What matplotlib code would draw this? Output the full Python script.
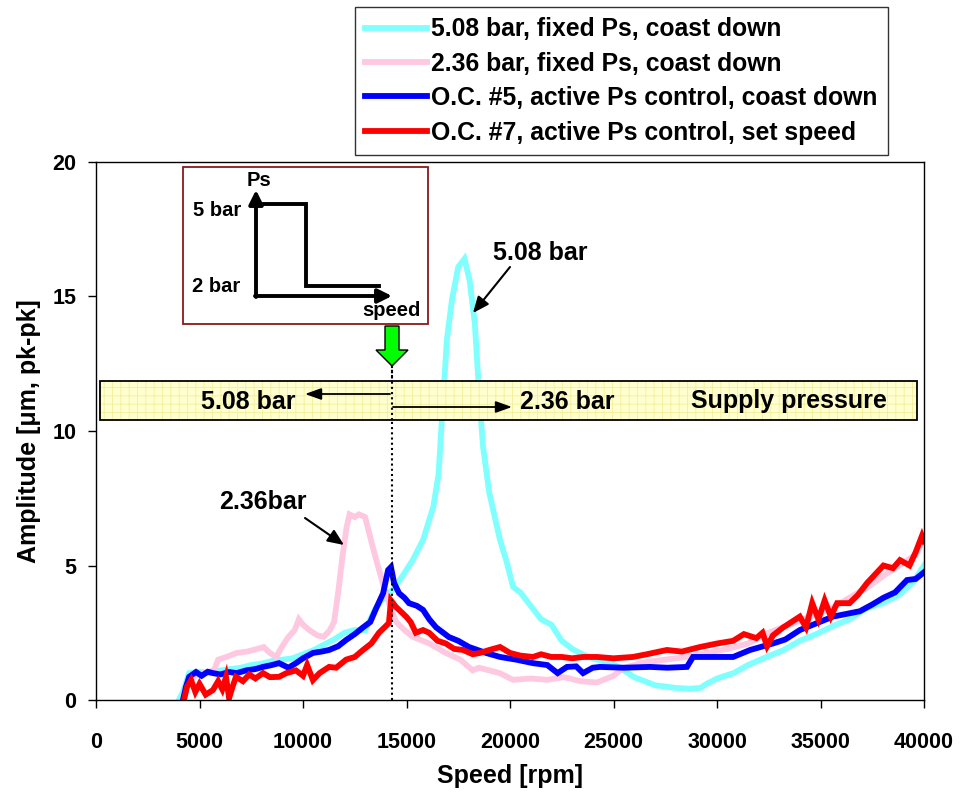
import matplotlib
matplotlib.use("Agg")
import matplotlib.pyplot as plt
from matplotlib.patches import Rectangle, Polygon, FancyArrowPatch
from matplotlib.lines import Line2D

plt.rcParams['font.family'] = ['Liberation Sans', 'DejaVu Sans']
plt.rcParams['font.weight'] = 'bold'

# ---- data -------------------------------------------------------------
cyan_x = [4000, 4200, 4500, 5000, 5500, 6000, 6500, 7000, 7500, 8000, 8500, 9000, 9500, 10000,
          10500, 11000, 11500, 12000, 12500, 13000, 13500, 14000, 14350, 14800, 15300, 15800,
          16300, 16550, 16700, 16950, 17200, 17500, 17800, 18050, 18300, 18550, 18700, 19000,
          19500, 19850, 20150, 20500, 21000, 21500, 22000, 22500, 23000, 23500, 24000, 25000,
          25500, 26000, 26500, 27000, 27500, 28000, 28700, 29200, 29500, 30000, 30800, 31500,
          32400, 33200, 34000, 34800, 35600, 36400, 37200, 38000, 38800, 39500, 40000]
cyan_y = [0.0, 0.3, 1.0, 1.05, 1.0, 1.1, 1.15, 1.2, 1.3, 1.35, 1.45, 1.5, 1.55, 1.7,
          1.85, 2.05, 2.25, 2.5, 2.6, 2.6, 3.4, 3.9, 4.1, 4.6, 5.2, 5.95,
          7.2, 8.4, 10.3, 13.4, 14.9, 16.1, 16.4, 15.6, 14.0, 10.9, 9.4, 7.7,
          6.0, 5.1, 4.2, 4.0, 3.5, 3.0, 2.8, 2.2, 1.9, 1.7, 1.55, 1.35,
          1.1, 0.85, 0.7, 0.55, 0.5, 0.45, 0.42, 0.45, 0.6, 0.8, 1.0, 1.3,
          1.6, 1.85, 2.2, 2.45, 2.75, 3.0, 3.4, 3.6, 3.9, 4.4, 5.0]

pink_x = [4200, 4400, 4800, 5200, 5700, 5900, 6300, 6800, 7300, 7800, 8100, 8400, 8700, 9000,
          9300, 9600, 9800, 10000, 10300, 10700, 11000, 11300, 11500, 11700, 11900, 12100,
          12250, 12500, 12700, 13000, 13200, 13400, 13650, 13870, 14150, 14500, 14900, 15300,
          16100, 16900, 17600, 18200, 18500, 19500, 20150, 21000, 21800, 22600, 23400, 24200,
          25000, 25500, 26500, 27500, 28500, 29500, 30500, 31500, 32500, 33500, 34500, 35500,
          36400, 37300, 38200, 39000, 39600, 40000]
pink_y = [0.0, 0.6, 0.9, 1.0, 1.1, 1.5, 1.6, 1.75, 1.8, 1.9, 1.97, 1.75, 1.6, 2.0,
          2.35, 2.6, 3.0, 2.8, 2.6, 2.4, 2.35, 2.6, 2.9, 4.0, 5.3, 6.4,
          6.9, 6.8, 6.9, 6.8, 6.2, 5.6, 4.9, 4.3, 3.6, 2.9, 2.6, 2.35,
          2.1, 1.75, 1.5, 1.1, 1.2, 1.0, 0.75, 0.8, 0.75, 0.85, 0.7, 0.65,
          0.9, 1.2, 1.4, 1.5, 1.6, 1.75, 1.9, 2.1, 2.5, 2.8, 3.1, 3.4,
          3.8, 4.2, 4.7, 5.1, 5.4, 6.0]

blue_x = [4200, 4350, 4500, 4830, 5100, 5400, 5650, 6000, 6430, 6800, 7250, 7700, 8070, 8500,
          8840, 9300, 9660, 10000, 10480, 10900, 11260, 11700, 12080, 12500, 12900, 13250,
          13530, 13870, 14110, 14250, 14400, 14640, 14900, 15120, 15500, 15800, 16100, 16430,
          17050, 17500, 18020, 18840, 19520, 20300, 21110, 21800, 22300, 22750, 23200, 23530,
          24000, 24350, 25500, 26760, 27600, 28550, 28840, 29800, 30780, 31600, 32700, 33300,
          34000, 34800, 35600, 36900, 37500, 38040, 38600, 39180, 39600, 40000]
blue_y = [0.0, 0.5, 0.86, 1.04, 0.9, 1.05, 1.0, 0.95, 1.04, 1.0, 1.1, 1.15, 1.23, 1.3,
          1.37, 1.2, 1.37, 1.55, 1.75, 1.8, 1.86, 2.0, 2.23, 2.45, 2.7, 2.9,
          3.4, 3.97, 4.83, 4.94, 4.35, 3.97, 3.8, 3.6, 3.5, 3.35, 3.0, 2.7,
          2.34, 2.2, 1.97, 1.75, 1.6, 1.5, 1.37, 1.3, 1.0, 1.23, 1.25, 1.0,
          1.2, 1.23, 1.2, 1.23, 1.2, 1.23, 1.6, 1.6, 1.6, 1.86, 2.1, 2.25,
          2.6, 2.85, 3.1, 3.3, 3.55, 3.8, 4.0, 4.46, 4.5, 4.75]

red_x = [4250, 4400, 4590, 4800, 5000, 5300, 5650, 5900, 6100, 6280, 6430, 6600, 6760, 7100,
         7400, 7700, 8070, 8400, 8840, 9200, 9660, 10000, 10200, 10480, 10800, 11260, 11600,
         12080, 12500, 12900, 13300, 13670, 14150, 14250, 14490, 14980, 15200, 15450, 15800,
         16090, 16500, 16900, 17300, 17730, 18200, 18550, 19000, 19520, 20000, 20500, 21110,
         21500, 22000, 22500, 23000, 23530, 24200, 25000, 25940, 26600, 27580, 28300, 29180,
         30000, 30780, 31300, 31900, 32200, 32420, 32700, 33200, 33600, 34000, 34300, 34600,
         34900, 35200, 35500, 35800, 36400, 36800, 37250, 38040, 38500, 38840, 39300, 39600,
         39900, 40000]
red_y = [0.0, 0.5, 0.74, 0.3, 0.6, 0.2, 0.37, 0.7, 0.4, 0.86, 0.07, 0.5, 0.86, 0.7,
         0.95, 0.8, 1.0, 0.85, 0.86, 1.0, 1.1, 0.9, 1.3, 0.74, 1.0, 1.23, 1.2,
         1.5, 1.6, 1.86, 2.1, 2.5, 2.86, 3.7, 3.46, 3.1, 2.9, 2.5, 2.6,
         2.5, 2.2, 2.1, 1.9, 1.86, 1.7, 1.75, 1.86, 1.97, 1.75, 1.65, 1.6,
         1.7, 1.6, 1.6, 1.55, 1.6, 1.6, 1.55, 1.6, 1.7, 1.86, 1.8, 1.97,
         2.1, 2.2, 2.45, 2.3, 2.5, 2.0, 2.4, 2.7, 2.9, 3.1, 2.7, 3.6,
         3.0, 3.7, 3.1, 3.6, 3.6, 3.9, 4.35, 5.0, 4.9, 5.2, 5.0, 5.5,
         6.1, 5.9]

series_labels = ["5.08 bar, fixed Ps, coast down",
                 "2.36 bar, fixed Ps, coast down",
                 "O.C. #5, active Ps control, coast down",
                 "O.C. #7, active Ps control, set speed"]
series_colors = ["#80FFFF", "#FFC8E1", "#0000FF", "#FF0000"]

switch_speed = 14300
x_ticks = [0, 5000, 10000, 15000, 20000, 25000, 30000, 35000, 40000]
y_ticks = [0, 5, 10, 15, 20]

# ---- figure -----------------------------------------------------------
W, H = 963, 798
fig = plt.figure(figsize=(W / 100, H / 100), dpi=100)
ax = fig.add_axes([96 / W, 1 - 700 / H, (924 - 96) / W, (700 - 162) / H])


def fx(px):
    return px / W


def fy(py):
    return 1 - py / H


def F(px, py):
    return (fx(px), fy(py))


for xs, ys, c, lab in zip([cyan_x, pink_x, blue_x, red_x], [cyan_y, pink_y, blue_y, red_y],
                          series_colors, series_labels):
    ax.plot(xs, ys, color=c, lw=4.2, label=lab, solid_joinstyle='miter')

ax.plot([switch_speed, switch_speed], [0, 12.6], color='black', lw=1.5, ls=(0, (1, 1.5)), zorder=5)

ax.set_xlim(0, 40000)
ax.set_ylim(0, 20)
ax.set_xticks(x_ticks)
ax.set_yticks(y_ticks)
ax.tick_params(axis='both', direction='out', length=6, width=1, labelsize=15.5)
ax.tick_params(axis='x', pad=17)
ax.tick_params(axis='y', pad=8)
for lbl in ax.get_xticklabels() + ax.get_yticklabels():
    lbl.set_fontweight('bold')
for s in ax.spines.values():
    s.set_linewidth(1)
    s.set_color('black')
ax.set_xlabel("Speed [rpm]", fontsize=18, fontweight='bold', labelpad=8)
ax.set_ylabel("Amplitude [μm, pk-pk]", fontsize=18, fontweight='bold', labelpad=8)

# legend
handles = [Line2D([], [], color=c, lw=4.2) for c in series_colors]
leg = fig.legend(handles, series_labels, loc='upper left', bbox_to_anchor=F(355, 7),
                 bbox_transform=fig.transFigure, fontsize=17.8, frameon=True, fancybox=False,
                 edgecolor='black', handlelength=2.5, handletextpad=0.15, labelspacing=0.42,
                 borderpad=0.42, borderaxespad=0)
leg.get_frame().set_linewidth(1)
for t in leg.get_texts():
    t.set_fontweight('bold')

# inset sketch box
fig.add_artist(Rectangle(F(183, 324), fx(428) - fx(183), fy(167) - fy(324), transform=fig.transFigure,
                         facecolor='white', edgecolor='#8B1A1A', lw=1.3, zorder=3))
arrow_kw = dict(arrowstyle='-|>,head_length=0.6,head_width=0.3', color='black', lw=2.8,
                shrinkA=0, shrinkB=0)
fig.add_artist(FancyArrowPatch(F(256, 297), F(256, 190), transform=fig.transFigure,
                               mutation_scale=14, zorder=4, **arrow_kw))
fig.add_artist(FancyArrowPatch(F(255, 296), F(392, 296), transform=fig.transFigure,
                               mutation_scale=14, zorder=4, **arrow_kw))
fig.add_artist(Line2D([fx(261), fx(306), fx(306), fx(379)], [fy(204), fy(204), fy(286), fy(286)],
                      transform=fig.transFigure, color='black', lw=2.8, zorder=4,
                      solid_joinstyle='miter'))
fig.text(*F(259, 181), "Ps", fontsize=14.5, fontweight='bold', ha='center', va='center', zorder=5)
fig.text(*F(241, 210), "5 bar", fontsize=14.5, fontweight='bold', ha='right', va='center', zorder=5)
fig.text(*F(240, 286), "2 bar", fontsize=14.5, fontweight='bold', ha='right', va='center', zorder=5)
fig.text(*F(391, 311), "speed", fontsize=14.5, fontweight='bold', ha='center', va='center', zorder=5)

# green arrow
fig.add_artist(Polygon([F(385, 326), F(399, 326), F(399, 350), F(408, 350), F(392, 366),
                        F(376, 350), F(385, 350)], closed=True, transform=fig.transFigure,
                       facecolor='#00FF00', edgecolor='black', lw=1, zorder=4))

# supply pressure band
plt.rcParams['hatch.linewidth'] = 0.6
fig.add_artist(Rectangle(F(100, 420), fx(917) - fx(100), fy(381) - fy(420), transform=fig.transFigure,
                         facecolor='#FFFFD0', edgecolor='#F4EE9A', hatch='++', lw=0, zorder=3))
fig.add_artist(Rectangle(F(100, 420), fx(917) - fx(100), fy(381) - fy(420), transform=fig.transFigure,
                         facecolor='none', edgecolor='black', lw=1.3, zorder=4))
fig.add_artist(Line2D([fx(392), fx(392)], [fy(366), fy(420)], transform=fig.transFigure,
                      color='black', lw=1.5, ls=(0, (1, 1.5)), zorder=5))
small_arrow = dict(arrowstyle='-|>,head_length=0.7,head_width=0.25', color='black', lw=1.3,
                   shrinkA=0, shrinkB=0)
fig.add_artist(FancyArrowPatch(F(390, 394), F(305, 394), transform=fig.transFigure,
                               mutation_scale=14, zorder=5, **small_arrow))
fig.add_artist(FancyArrowPatch(F(393, 407), F(512, 407), transform=fig.transFigure,
                               mutation_scale=14, zorder=5, **small_arrow))
fig.text(*F(248, 402), "5.08 bar", fontsize=18, fontweight='bold', ha='center', va='center', zorder=6)
fig.text(*F(567, 402), "2.36 bar", fontsize=18, fontweight='bold', ha='center', va='center', zorder=6)
fig.text(*F(789, 401), "Supply pressure", fontsize=18, fontweight='bold', ha='center', va='center',
         zorder=6)

# peak annotations
ann_arrow = dict(arrowstyle='-|>,head_length=0.7,head_width=0.3', color='black', lw=1.5,
                 shrinkA=0, shrinkB=0)
fig.add_artist(FancyArrowPatch(F(510, 267), F(473, 313), transform=fig.transFigure,
                               mutation_scale=14, zorder=5, **ann_arrow))
fig.text(*F(540, 253), "5.08 bar", fontsize=18, fontweight='bold', ha='center', va='center')
fig.add_artist(FancyArrowPatch(F(305, 518), F(344, 545), transform=fig.transFigure,
                               mutation_scale=14, zorder=5, **ann_arrow))
fig.text(*F(263, 502), "2.36bar", fontsize=18, fontweight='bold', ha='center', va='center')

fig.savefig("out.png", dpi=100)
